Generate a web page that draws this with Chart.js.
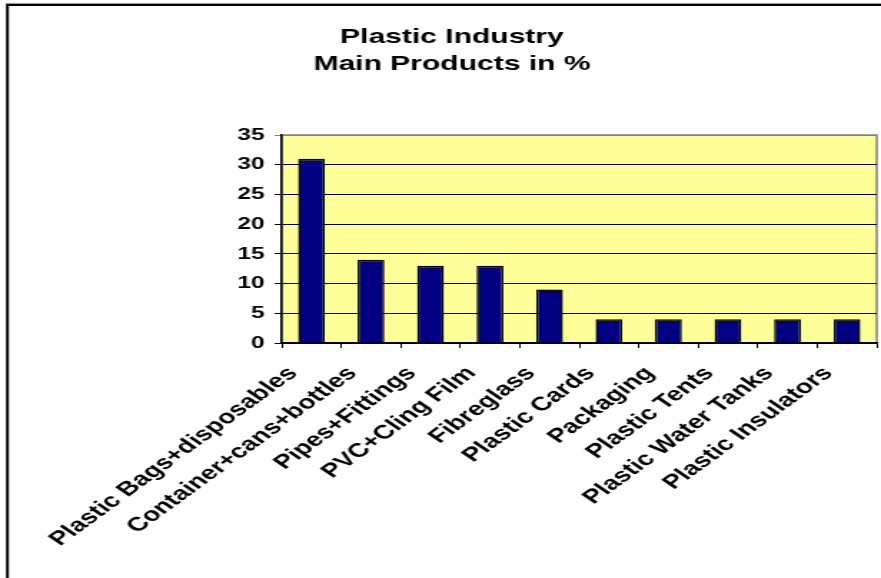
<!DOCTYPE html>
<html>
<head>
<meta charset="utf-8">
<script src="https://cdn.jsdelivr.net/npm/chart.js@4"></script>
<style>
    html, body { margin: 0; padding: 0; background: #ffffff; }
</style>
</head>
<body>
<!-- drawn narrow and stretched sideways, like the old sheet export -->
<canvas id="productsChart" width="616" height="578" style="display:block;width:881px;height:578px"></canvas>
<script>
var productLabels = [
    'Plastic Bags+disposables',
    'Container+cans+bottles',
    'Pipes+Fittings',
    'PVC+Cling Film',
    'Fibreglass',
    'Plastic Cards',
    'Packaging',
    'Plastic Tents',
    'Plastic Water Tanks',
    'Plastic Insulators'
];
var productShares = [31, 14, 13, 13, 9, 4, 4, 4, 4, 4];
var yMin = 0;
var yMax = 35;
var yStep = 5;

var fontFamily = '"Liberation Sans", Arial, sans-serif';

// Yellow plot background, grey frame and the outer chart border
var sheetFrame = {
    id: 'sheetFrame',
    beforeDraw: function (chart) {
        var ctx = chart.ctx;
        var a = chart.chartArea;
        ctx.save();
        ctx.fillStyle = '#ffffff';
        ctx.fillRect(0, 0, chart.width, chart.height);
        // outer border (top and left edges are the visible ones)
        ctx.strokeStyle = '#9a9a9a';
        ctx.lineWidth = 1;
        ctx.beginPath();
        ctx.moveTo(4, 3.5);
        ctx.lineTo(chart.width, 3.5);
        ctx.stroke();
        ctx.strokeStyle = '#000000';
        ctx.lineWidth = 2;
        ctx.beginPath();
        ctx.moveTo(chart.width, 5);
        ctx.lineTo(5.2, 5);
        ctx.lineTo(5.2, chart.height);
        ctx.stroke();
        // plot area
        ctx.fillStyle = '#ffff99';
        ctx.fillRect(a.left, a.top, a.right - a.left, a.bottom - a.top);
        ctx.strokeStyle = '#808080';
        ctx.lineWidth = 1.5;
        ctx.strokeRect(a.left, a.top, a.right - a.left, a.bottom - a.top);
        ctx.restore();
    }
};

var ctx = document.getElementById('productsChart').getContext('2d');
new Chart(ctx, {
    type: 'bar',
    data: {
        labels: productLabels,
        datasets: [{
            data: productShares,
            backgroundColor: '#000080',
            borderColor: '#000000',
            borderWidth: 1.5,
            categoryPercentage: 1,
            barPercentage: 0.45
        }]
    },
    options: {
        responsive: false,
        animation: false,
        devicePixelRatio: 1,
        layout: {
            padding: { left: 19, right: 3, top: 0, bottom: 0 }
        },
        plugins: {
            legend: { display: false },
            tooltip: { enabled: false },
            title: {
                display: true,
                text: ['Plastic Industry', 'Main Products in %'],
                color: '#000000',
                font: { family: fontFamily, size: 21, weight: 'bold', lineHeight: '27px' },
                padding: { top: 24, bottom: 57 }
            }
        },
        scales: {
            x: {
                afterFit: function (scale) {
                    // fixed label band; rotated labels must not squeeze the plot
                    scale.height = 235;
                    scale.paddingLeft = 0;
                    scale.paddingRight = 0;
                },
                grid: {
                    offset: true,
                    drawOnChartArea: false,
                    drawTicks: true,
                    tickLength: 5,
                    color: '#000000',
                    lineWidth: 1
                },
                border: { color: '#000000', width: 1.5 },
                ticks: {
                    color: '#000000',
                    minRotation: 46,
                    maxRotation: 46,
                    autoSkip: false,
                    padding: 14,
                    labelOffset: -13,
                    font: { family: fontFamily, size: 19.5, weight: 'bold' }
                }
            },
            y: {
                min: yMin,
                max: yMax,
                afterFit: function (scale) { scale.width = 178; },
                grid: {
                    color: function (c) {
                        return c.tick && c.tick.value === yMax ? '#808080' : '#000000';
                    },
                    lineWidth: 1,
                    drawTicks: true,
                    tickLength: 5
                },
                border: { color: '#000000', width: 1.5 },
                ticks: {
                    stepSize: yStep,
                    color: '#000000',
                    padding: 7,
                    font: { family: fontFamily, size: 17, weight: 'bold' }
                }
            }
        }
    },
    plugins: [sheetFrame]
});
</script>
</body>
</html>
